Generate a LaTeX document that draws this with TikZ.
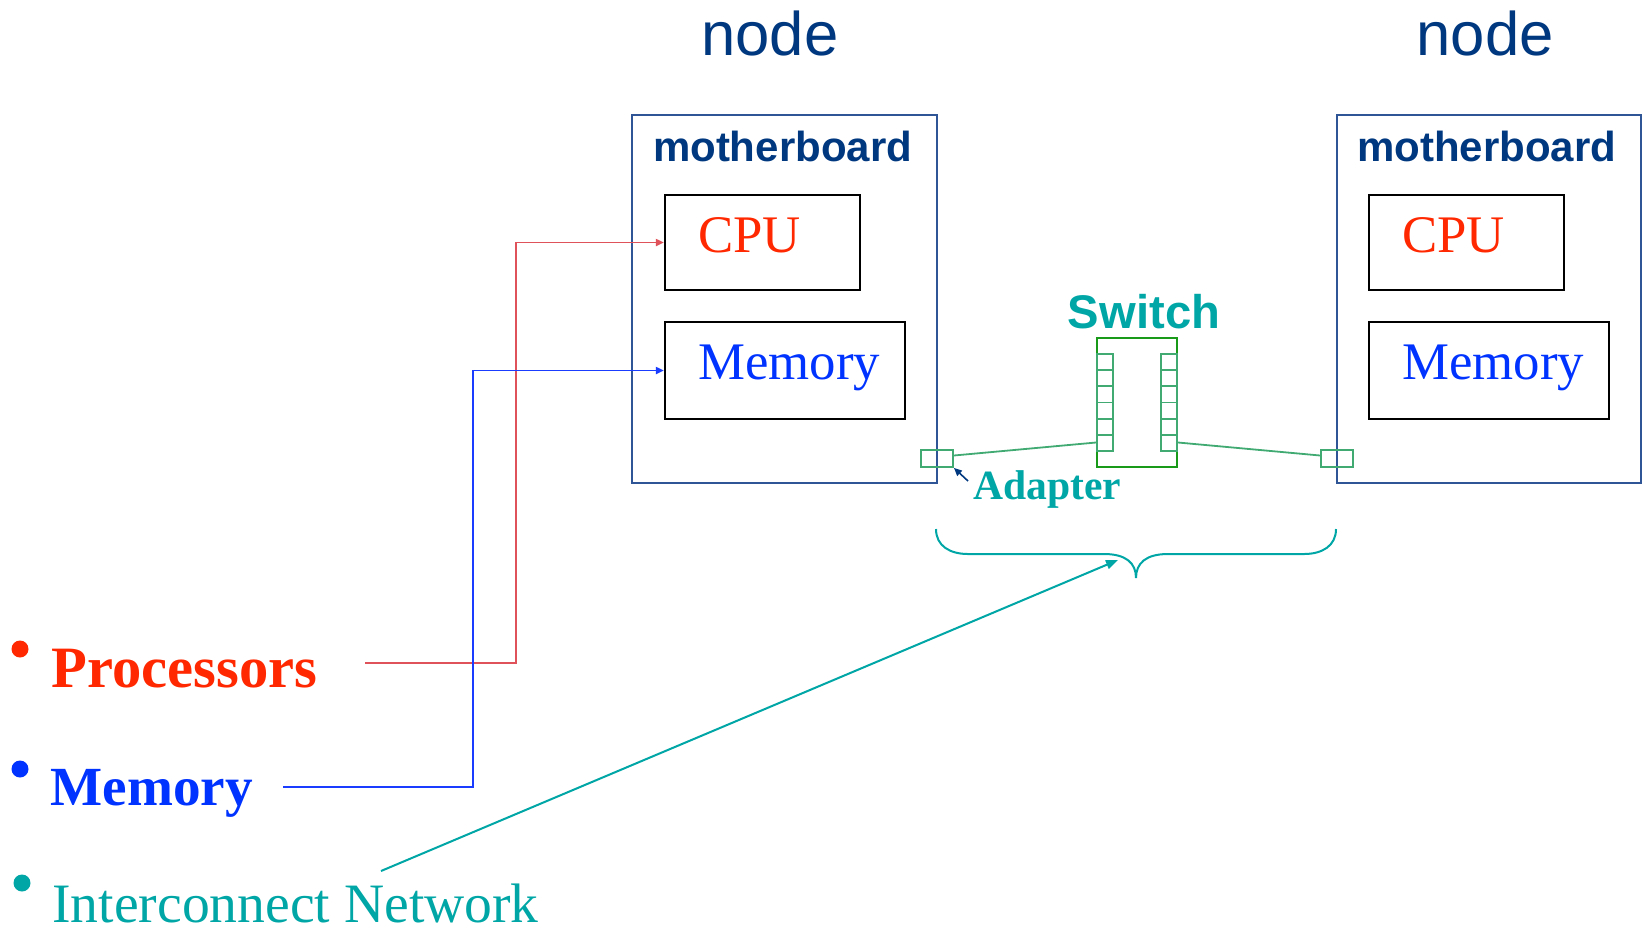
\documentclass[tikz,border=0pt]{standalone}
\usepackage{fontspec}
\setmainfont{Liberation Serif}
\newfontfamily\arialf{Liberation Sans}
\usetikzlibrary{fit,calc,arrows.meta}
\newcommand\myfs[1]{\fontsize{#1}{#1}\selectfont}
\definecolor{navy}{RGB}{0,56,128}
\definecolor{mbblue}{RGB}{47,85,151}
\definecolor{cpured}{RGB}{255,40,0}
\definecolor{memblue}{RGB}{0,51,255}
\definecolor{tealc}{RGB}{0,166,166}
\definecolor{linkred}{RGB}{224,82,90}
\definecolor{linkblue}{RGB}{25,60,255}
\definecolor{swgreen}{RGB}{25,155,25}
\definecolor{portgreen}{RGB}{65,170,115}
\tikzset{
  mbbox/.style={draw=mbblue, line width=1pt, inner sep=0pt},
  partbox/.style={draw=black, line width=1.1pt, inner sep=0pt},
  portbox/.style={draw=portgreen, line width=0.9pt, inner sep=0pt},
  swbox/.style={draw=swgreen, line width=1pt, inner sep=0pt},
  lbl/.style={inner sep=0pt},
  titletxt/.style={lbl, anchor=base, font=\arialf\myfs{30.8}, text=navy},
  mbtxt/.style={lbl, anchor=base, font=\arialf\bfseries\myfs{21}, text=navy},
  cputxt/.style={lbl, anchor=base west, font=\myfs{26.4}, text=cpured},
  memtxt/.style={lbl, anchor=base west, font=\myfs{26.4}, text=memblue},
  bullet/.style={circle, inner sep=0pt, minimum size=8.5pt},
  tipsmall/.style={-{Triangle[length=4pt,width=3.5pt]}},
}
\begin{document}
\begin{tikzpicture}[x=0.5pt, y=-0.5pt]
\useasboundingbox (0,0) rectangle (1642,928);

% titles
\node[titletxt] (nodeL) at (770,55) {node};
\node[titletxt] (nodeR) at (1485,55) {node};

% motherboards
\node[mbbox, fit={(632,115)(937,483)}] (mbL) {};
\node[mbbox, fit={(1337,115)(1641,483)}] (mbR) {};
\node[mbtxt] (mbLt) at (782.5,161) {motherboard};
\node[mbtxt] (mbRt) at (1486.5,161) {motherboard};

% CPU and memory boxes
\node[partbox, fit={(665,195)(860,290)}] (cpuL) {};
\node[partbox, fit={(665,322)(905,419)}] (memL) {};
\node[partbox, fit={(1369,195)(1564,290)}] (cpuR) {};
\node[partbox, fit={(1369,322)(1609,419)}] (memR) {};
\node[cputxt] (cpuLt) at (698,252) {CPU};
\node[memtxt] (memLt) at (698,379) {Memory};
\node[cputxt] (cpuRt) at (1402,252) {CPU};
\node[memtxt] (memRt) at (1402,379) {Memory};

% switch
\node[lbl, anchor=base, font=\arialf\bfseries\myfs{23.6}, text=tealc] (swt) at (1144,328) {Switch};
\node[swbox, fit={(1097,338)(1177,467)}] (sw) {};
\foreach \i in {0,...,5} {
  \node[portbox, fit={(1097,{354+\i*16.17})(1113,{370.17+\i*16.17})}] (pl\i) {};
  \node[portbox, fit={(1161,{354+\i*16.17})(1177,{370.17+\i*16.17})}] (pr\i) {};
}

% adapters
\node[portbox, fit={(921,450)(953,467)}] (adL) {};
\node[portbox, fit={(1321,450)(1353,467)}] (adR) {};
\draw[portgreen, line width=0.9pt] ($(adL.east)+(0,-3)$) -- ($(sw.west)+(0,40)$);
\draw[portgreen, line width=0.9pt] ($(sw.east)+(0,40)$) -- ($(adR.west)+(0,-3)$);
\node[lbl, anchor=base west, font=\bfseries\myfs{20.8}, text=tealc] (adt) at (973,499) {Adapter};
\coordinate (adArrow) at (968,481);
\draw[navy, line width=0.8pt, -{Triangle[length=4pt,width=3.5pt]}] (adArrow) -- (adL.south east);

% brace
\coordinate (brL) at (936,529);
\coordinate (brTip) at (1136,578);
\coordinate (brR) at (1336,529);
\draw[tealc, line width=1pt]
  (brL) .. controls (936,546) and (950,554) .. (968,554) -- (1104,554)
  .. controls (1126,554) and (1136,563) .. (brTip)
  .. controls (1136,563) and (1146,554) .. (1168,554) -- (1304,554)
  .. controls (1322,554) and (1336,546) .. (brR);

% bullets and labels
\node[bullet, fill=cpured] (b1) at (20,649) {};
\node[bullet, fill=memblue] (b2) at (20,769) {};
\node[bullet, fill=tealc] (b3) at (22,883) {};
\node[lbl, anchor=base west, font=\bfseries\myfs{29.3}, text=cpured] (procT) at (51,687) {Processors};
\node[lbl, anchor=base west, font=\bfseries\myfs{27.6}, text=memblue] (memT) at (50,805) {Memory};
\node[lbl, anchor=base west, font=\myfs{27.8}, text=tealc] (netT) at (52,922) {Interconnect Network};

% connectors
\coordinate (procEnd) at (365,663);
\coordinate (memEnd) at (283,787);
\coordinate (netEnd) at (381,871);
\draw[linkred, line width=0.9pt, tipsmall] (procEnd) -- (516,663) |- (cpuL.west);
\draw[linkblue, line width=0.9pt, tipsmall] (memEnd) -- (473,787) |- (memL.west);
\draw[tealc, line width=1pt, -{Triangle[length=6pt,width=4.5pt]}] (netEnd) -- (1118,560);
\end{tikzpicture}
\end{document}
